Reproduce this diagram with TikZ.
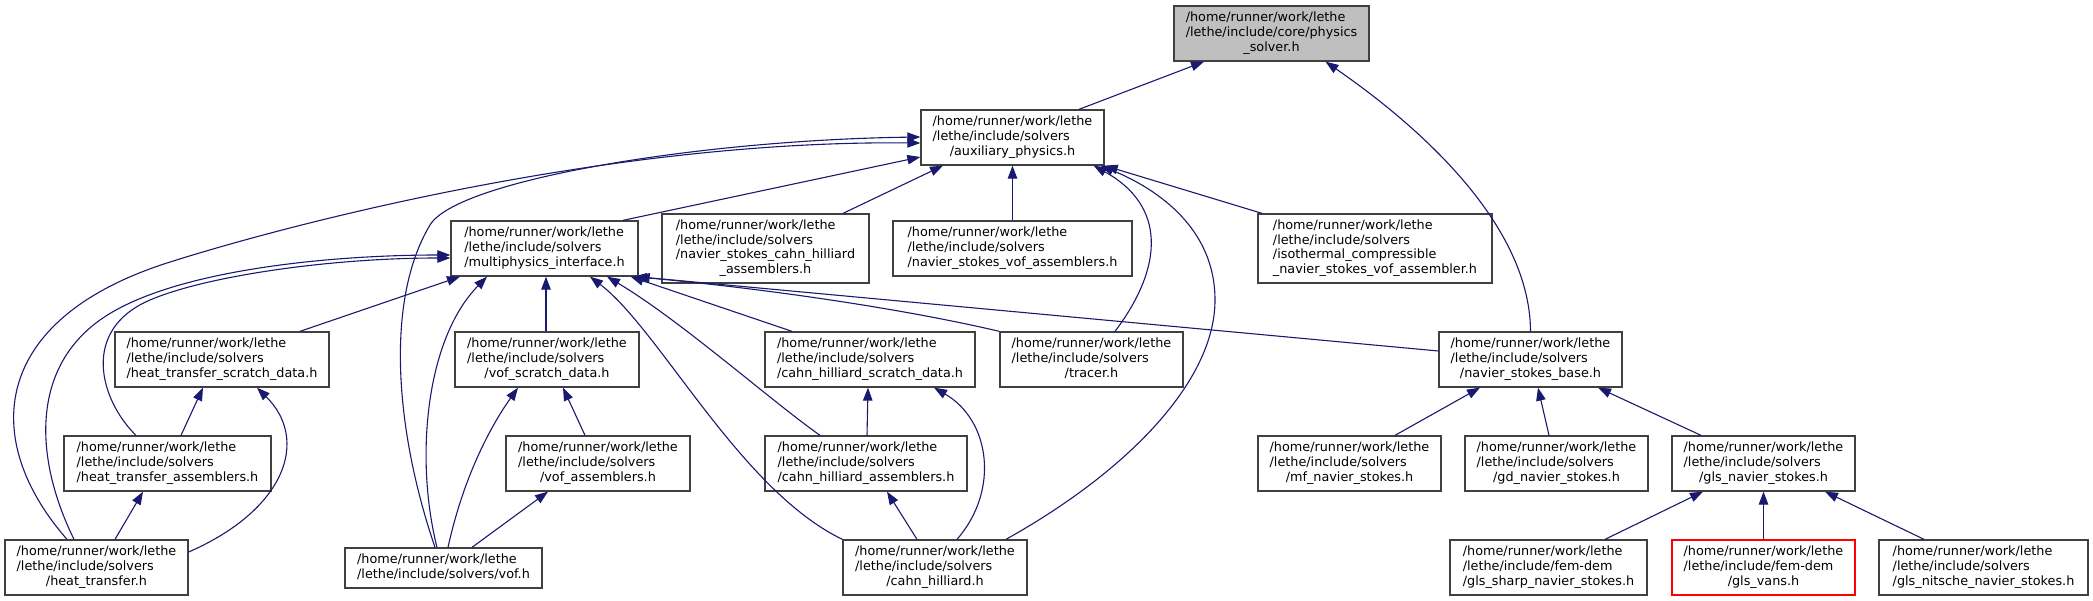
\documentclass[tikz,border=0pt]{standalone}
\usepackage{fontspec}
\setmainfont{DejaVu Sans}
\usetikzlibrary{arrows.meta}
\definecolor{edgeblue}{HTML}{191970}
\definecolor{boxline}{HTML}{404040}
\definecolor{rootfill}{HTML}{BFBFBF}
\definecolor{missing}{HTML}{FF0000}
\newcommand{\incpath}[2]{\begin{tabular}{@{}l@{}}#1\\\multicolumn{1}{@{}c@{}}{#2}\end{tabular}}

\begin{document}
\begin{tikzpicture}[x=1pt,y=-1pt,
  arrow/.style={-{Triangle[length=13pt,width=9.5pt]},draw=edgeblue,line width=1.1pt},
  box/.style={draw=boxline,fill=white,line width=1.3pt,inner sep=0pt,
    minimum width=183pt,minimum height=55pt,
    font=\fontsize{12.8}{14.8}\selectfont}
]
  \useasboundingbox (0,0) rectangle (2093,601);

  \node[box,fill=rootfill,minimum width=195pt] (ps) at (1271.5,33.5)
    {\incpath{/home/runner/work/lethe\\/lethe/include/core/physics}{\_solver.h}};
  \node[box] (ap) at (1012.5,137.5)
    {\incpath{/home/runner/work/lethe\\/lethe/include/solvers}{/auxiliary\_physics.h}};

  \node[box,minimum width=187pt] (mi) at (544.5,248.5)
    {\incpath{/home/runner/work/lethe\\/lethe/include/solvers}{/multiphysics\_interface.h}};
  \node[box,minimum width=207pt,minimum height=69pt] (nscha) at (765.5,248.5)
    {\incpath{/home/runner/work/lethe\\/lethe/include/solvers\\/navier\_stokes\_cahn\_hilliard}{\_assemblers.h}};
  \node[box,minimum width=239pt] (nsva) at (1012.5,248.5)
    {\incpath{/home/runner/work/lethe\\/lethe/include/solvers}{/navier\_stokes\_vof\_assemblers.h}};
  \node[box,minimum width=234pt,minimum height=69pt] (iso) at (1375,248.5)
    {\incpath{/home/runner/work/lethe\\/lethe/include/solvers\\/isothermal\_compressible}{\_navier\_stokes\_vof\_assembler.h}};

  \node[box,minimum width=214pt] (htsd) at (222,359.5)
    {\incpath{/home/runner/work/lethe\\/lethe/include/solvers}{/heat\_transfer\_scratch\_data.h}};
  \node[box,minimum width=184pt] (vsd) at (547,359.5)
    {\incpath{/home/runner/work/lethe\\/lethe/include/solvers}{/vof\_scratch\_data.h}};
  \node[box,minimum width=210pt] (chsd) at (870,359.5)
    {\incpath{/home/runner/work/lethe\\/lethe/include/solvers}{/cahn\_hilliard\_scratch\_data.h}};
  \node[box] (tr) at (1091.5,359.5)
    {\incpath{/home/runner/work/lethe\\/lethe/include/solvers}{/tracer.h}};
  \node[box] (nsb) at (1530.5,359.5)
    {\incpath{/home/runner/work/lethe\\/lethe/include/solvers}{/navier\_stokes\_base.h}};

  \node[box,minimum width=207pt] (hta) at (167.5,463.5)
    {\incpath{/home/runner/work/lethe\\/lethe/include/solvers}{/heat\_transfer\_assemblers.h}};
  \node[box,minimum width=184pt] (va) at (598,463.5)
    {\incpath{/home/runner/work/lethe\\/lethe/include/solvers}{/vof\_assemblers.h}};
  \node[box,minimum width=202pt] (cha) at (866,463.5)
    {\incpath{/home/runner/work/lethe\\/lethe/include/solvers}{/cahn\_hilliard\_assemblers.h}};
  \node[box] (mf) at (1349.5,463.5)
    {\incpath{/home/runner/work/lethe\\/lethe/include/solvers}{/mf\_navier\_stokes.h}};
  \node[box] (gd) at (1556.5,463.5)
    {\incpath{/home/runner/work/lethe\\/lethe/include/solvers}{/gd\_navier\_stokes.h}};
  \node[box] (gls) at (1763.5,463.5)
    {\incpath{/home/runner/work/lethe\\/lethe/include/solvers}{/gls\_navier\_stokes.h}};

  \node[box] (ht) at (96.5,567.5)
    {\incpath{/home/runner/work/lethe\\/lethe/include/solvers}{/heat\_transfer.h}};
  \node[box,minimum width=197pt,minimum height=40pt] (vof) at (443.5,568)
    {\incpath{/home/runner/work/lethe}{/lethe/include/solvers/vof.h}};
  \node[box,minimum width=184pt] (ch) at (935,567.5)
    {\incpath{/home/runner/work/lethe\\/lethe/include/solvers}{/cahn\_hilliard.h}};
  \node[box,minimum width=197pt] (sharp) at (1548.5,567.5)
    {\incpath{/home/runner/work/lethe\\/lethe/include/fem-dem}{/gls\_sharp\_navier\_stokes.h}};
  \node[box,draw=missing] (vans) at (1763.5,567.5)
    {\incpath{/home/runner/work/lethe\\/lethe/include/fem-dem}{/gls\_vans.h}};
  \node[box,minimum width=209pt] (nitsche) at (1983.5,567.5)
    {\incpath{/home/runner/work/lethe\\/lethe/include/solvers}{/gls\_nitsche\_navier\_stokes.h}};

  \draw[arrow] ([xshift=66.5pt]ap.north) -- ([xshift=-67.5pt]ps.south);
  \draw[arrow] (nsb.north) .. controls (1530,220) and (1410,120) .. ([xshift=54pt]ps.south);

  \draw[arrow] ([xshift=78.5pt]mi.north) -- ([yshift=-19.5pt]ap.west);
  \draw[arrow] ([xshift=77.5pt]nscha.north) -- ([xshift=-69.5pt]ap.south);
  \draw[arrow] (nsva) -- (ap);
  \draw[arrow] ([xshift=-113pt]iso.north) -- (ap.south east);
  \draw[arrow] ([xshift=23.5pt]tr.north) .. controls (1165,265) and (1165,205)
    .. ([xshift=-11pt]ap.south east);
  \draw[arrow] ([xshift=71pt]ch.north) .. controls (1130,470) and (1215,380) .. (1215,300)
    .. controls (1215,230) and (1160,190) .. ([xshift=-4pt]ap.south east);
  \draw[arrow] ([xshift=-29.5pt]ht.north) .. controls (-20,440) and (-10,320) .. (167,263)
    .. controls (273,229) and (600,140) .. ([yshift=-5.5pt]ap.west);
  \draw[arrow] ([xshift=-8.5pt]vof.north) .. controls (395,430) and (385,300) .. (430,225)
    .. controls (457,180) and (700,140) .. ([yshift=0.5pt]ap.west);

  \draw[arrow] ([xshift=78pt]htsd.north) -- ([xshift=-84.5pt]mi.south);
  \draw[arrow] ([xshift=-1pt]vsd.north) -- ([xshift=1.5pt]mi.south);
  \draw[arrow] ([xshift=-6.5pt]vof.north) .. controls (415,460) and (425,340)
    .. ([xshift=-57.5pt]mi.south);
  \draw[arrow] ([xshift=-22.5pt]ht.north) .. controls (35,460) and (30,370) .. (100,320)
    .. controls (170,270) and (330,255) .. ([yshift=-6.5pt]mi.west);
  \draw[arrow] ([xshift=-31.5pt]hta.north) .. controls (100,400) and (80,330) .. (150,300)
    .. controls (206,276) and (330,258) .. ([yshift=-9.5pt]mi.west);
  \draw[arrow] (ch.north west) .. controls (740,490) and (660,330) .. ([xshift=45.5pt]mi.south);
  \draw[arrow] ([xshift=-46pt]cha.north) .. controls (770,400) and (680,320)
    .. ([xshift=62.5pt]mi.south);
  \draw[arrow] ([xshift=-78pt]chsd.north) -- ([xshift=-8pt]mi.south east);
  \draw[arrow] (tr.north west) .. controls (900,308) and (760,288) .. ([xshift=-5pt]mi.south east);
  \draw[arrow] ([yshift=8.5pt]nsb.west) -- ([xshift=-2pt]mi.south east);

  \draw[arrow] ([xshift=13.5pt]hta.north) -- ([xshift=-19pt]htsd.south);
  \draw[arrow] ([yshift=15.5pt]ht.east) .. controls (285,510) and (310,440)
    .. ([xshift=35pt]htsd.south);
  \draw[arrow] ([xshift=18.5pt]ht.north) -- ([xshift=-24.5pt]hta.south);

  \draw[arrow] ([xshift=4.5pt]vof.north) .. controls (465,470) and (495,420)
    .. ([xshift=-29pt]vsd.south);
  \draw[arrow] ([xshift=28.5pt]vof.north) -- ([xshift=-50pt]va.south);
  \draw[arrow] ([xshift=-13pt]va.north) -- ([xshift=16pt]vsd.south);

  \draw[arrow] ([xshift=1pt]cha.north) -- ([xshift=-2pt]chsd.south);
  \draw[arrow] ([xshift=22pt]ch.north) .. controls (1000,490) and (990,420)
    .. ([xshift=64pt]chsd.south);
  \draw[arrow] ([xshift=-18pt]ch.north) -- ([xshift=21pt]cha.south);

  \draw[arrow] ([xshift=45.5pt]mf.north) -- ([xshift=-50.5pt]nsb.south);
  \draw[arrow] ([xshift=-7.5pt]gd.north) -- ([xshift=7.5pt]nsb.south);
  \draw[arrow] ([xshift=-62.5pt]gls.north) -- ([xshift=67.5pt]nsb.south);
  \draw[arrow] ([xshift=56.5pt]sharp.north) -- ([xshift=-60.5pt]gls.south);
  \draw[arrow] (vans) -- (gls);
  \draw[arrow] ([xshift=-59.5pt]nitsche.north) -- ([xshift=61.5pt]gls.south);
\end{tikzpicture}
\end{document}
